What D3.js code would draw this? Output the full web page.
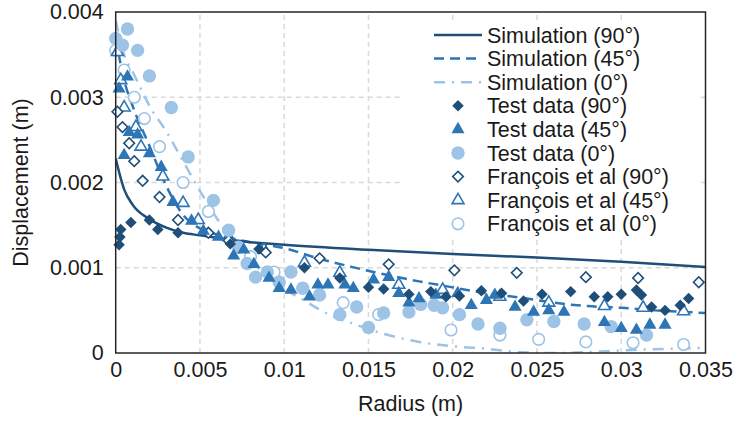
<!DOCTYPE html>
<html>
<head>
<meta charset="utf-8">
<script src="https://cdn.jsdelivr.net/npm/d3@7"></script>
<style>
  html, body { margin: 0; padding: 0; background: #fff; }
  svg { display: block; font-family: "Liberation Sans", Arial, sans-serif; }
</style>
</head>
<body>
<svg id="chart" width="736" height="423"></svg>
<script>
// Axis ticks
const xTicks = [0, 0.005, 0.01, 0.015, 0.02, 0.025, 0.03, 0.035];
const xTickLabels = ["0", "0.005", "0.01", "0.015", "0.02", "0.025", "0.03", "0.035"];
const yTicks = [0, 0.001, 0.002, 0.003, 0.004];
const yTickLabels = ["0", "0.001", "0.002", "0.003", "0.004"];

// Simulation curves: [radius (m), displacement (m)]
const sim90 = [[0, 0.00228], [0.0005, 0.00192], [0.001, 0.00174], [0.002, 0.00157], [0.003, 0.00147],
  [0.004, 0.00141], [0.005, 0.00138], [0.0075, 0.00131], [0.01, 0.00127], [0.015, 0.00121],
  [0.02, 0.00116], [0.025, 0.00112], [0.03, 0.00107], [0.035, 0.00101]];
const sim45 = [[0, 0.0037], [0.0005, 0.0032], [0.001, 0.0029], [0.002, 0.00243], [0.003, 0.00196],
  [0.004, 0.00162], [0.005, 0.00146], [0.006, 0.00139], [0.008, 0.0013], [0.01, 0.00123],
  [0.012, 0.00111], [0.014, 0.00101], [0.016, 0.00092], [0.018, 0.00084], [0.02, 0.00077],
  [0.022, 0.0007], [0.024, 0.00065], [0.026, 0.00059], [0.028, 0.00055], [0.03, 0.00053],
  [0.032, 0.0005], [0.035, 0.00047]];
const sim0 = [[0, 0.0039], [0.0005, 0.0035], [0.001, 0.0033], [0.0015, 0.0031], [0.002, 0.0029],
  [0.003, 0.0026], [0.004, 0.00225], [0.005, 0.0019], [0.006, 0.00158], [0.007, 0.0013],
  [0.008, 0.00108], [0.009, 0.0009], [0.01, 0.00075], [0.011, 0.00064], [0.012, 0.00052],
  [0.013, 0.00042], [0.014, 0.00035], [0.016, 0.00022], [0.018, 0.00013], [0.02, 0.00008],
  [0.022, 0.00005], [0.024, 0.00001], [0.026, 0], [0.028, 0.00001], [0.03, 0.00003], [0.035, 0.00006]];

// Measured data
const test90 = [[0.0003, 0.00145], [0.00025, 0.00136], [0.0002, 0.00127], [0.0009, 0.00153], [0.002, 0.00156],
  [0.0025, 0.00145], [0.0037, 0.00141], [0.0068, 0.00128], [0.0085, 0.00122], [0.0112, 0.001],
  [0.0133, 0.00088], [0.015, 0.00077], [0.0159, 0.00075], [0.0174, 0.00069], [0.0187, 0.00072],
  [0.0196, 0.00066], [0.0204, 0.00067], [0.0217, 0.00073], [0.0229, 0.0007], [0.0242, 0.00061],
  [0.0253, 0.00069], [0.027, 0.00072], [0.0284, 0.00066], [0.0292, 0.00066], [0.03, 0.00069],
  [0.0309, 0.00074], [0.0312, 0.00068], [0.0318, 0.00054], [0.0326, 0.0005], [0.0335, 0.00056],
  [0.034, 0.00064]];
const test45 = [[0.0002, 0.0031], [0.0007, 0.00324], [0.0008, 0.00259], [0.0013, 0.00256], [0.0005, 0.00232],
  [0.002, 0.00234], [0.0027, 0.00218], [0.0034, 0.00177], [0.0045, 0.00155], [0.0052, 0.00143],
  [0.0061, 0.00136], [0.007, 0.00114], [0.0076, 0.00121], [0.0082, 0.00104], [0.0091, 0.00088],
  [0.0097, 0.00076], [0.0104, 0.00074], [0.0115, 0.00066], [0.012, 0.0008], [0.0126, 0.0008],
  [0.0136, 0.0008], [0.0141, 0.00076], [0.0153, 0.00086], [0.0162, 0.00089], [0.0168, 0.0007],
  [0.0174, 0.00059], [0.018, 0.00064], [0.019, 0.00068], [0.0203, 0.0007], [0.0211, 0.00056],
  [0.022, 0.00062], [0.0225, 0.00068], [0.0237, 0.00054], [0.0248, 0.00048], [0.0257, 0.0005],
  [0.0266, 0.00048], [0.029, 0.00036], [0.03, 0.00029], [0.0309, 0.00027], [0.0317, 0.00033],
  [0.0326, 0.00033]];
const test0 = [[0.0, 0.00369], [0.0007, 0.0038], [0.0004, 0.00361], [0.0013, 0.00355], [0.002, 0.00325],
  [0.0033, 0.00288], [0.0043, 0.0023], [0.0058, 0.00179], [0.0067, 0.00144], [0.0073, 0.00124],
  [0.0078, 0.00105], [0.0083, 0.00089], [0.009, 0.00095], [0.0097, 0.00083], [0.0104, 0.00095],
  [0.0111, 0.00076], [0.0121, 0.00068], [0.0133, 0.00045], [0.0143, 0.00054], [0.015, 0.0003],
  [0.0159, 0.00047], [0.0174, 0.00048], [0.0181, 0.00057], [0.0189, 0.00056], [0.0194, 0.00053],
  [0.0204, 0.00045], [0.0215, 0.00034], [0.0228, 0.00029], [0.0244, 0.00039], [0.026, 0.00037],
  [0.0278, 0.00034], [0.0294, 0.00031], [0.0315, 0.00021]];

// Published reference data (François et al)
const francois90 = [[0.0001, 0.00283], [0.0004, 0.00265], [0.0008, 0.00246], [0.0011, 0.00225], [0.0016, 0.00202],
  [0.0026, 0.00183], [0.0037, 0.00156], [0.0055, 0.00141], [0.0067, 0.00132], [0.0089, 0.00118],
  [0.0121, 0.00111], [0.0162, 0.00104], [0.0201, 0.00097], [0.0238, 0.00094], [0.0279, 0.00089],
  [0.031, 0.00088], [0.0346, 0.00083]];
const francois45 = [[0.0001, 0.00353], [0.0003, 0.0032], [0.0005, 0.00288], [0.0012, 0.00265], [0.0015, 0.00242],
  [0.0028, 0.00207], [0.004, 0.00176], [0.0049, 0.00156], [0.0067, 0.00136], [0.0088, 0.00121],
  [0.0112, 0.00106], [0.0133, 0.00094], [0.0168, 0.0008], [0.0194, 0.00074], [0.0228, 0.00066],
  [0.0257, 0.00059], [0.029, 0.00055], [0.0313, 0.00053], [0.0337, 0.00049]];
const francois0 = [[0.0, 0.00355], [0.0005, 0.00332], [0.0011, 0.003], [0.0017, 0.00275], [0.0026, 0.00242],
  [0.004, 0.002], [0.0055, 0.00166], [0.008, 0.00113], [0.0094, 0.00095], [0.0135, 0.00059],
  [0.0156, 0.00045], [0.0199, 0.00027], [0.0228, 0.00021], [0.0251, 0.00016], [0.0279, 0.00013],
  [0.0307, 0.00012], [0.0337, 0.0001]];

const C90 = "#1f4e79", C45 = "#2e75b6", C0 = "#9dc3e6";
const FONT = 21.5;

const svg = d3.select("#chart");
const x = d3.scaleLinear().domain([0, 0.035]).range([115.7, 705.5]);
const y = d3.scaleLinear().domain([0, 0.004]).range([353, 12]);

// Gridlines
const grid = svg.append("g");
grid.selectAll("line.vg").data(xTicks.slice(1, -1)).join("line")
  .attr("x1", d => x(d)).attr("x2", d => x(d)).attr("y1", y(0)).attr("y2", y(0.004))
  .attr("stroke", "#d9d9d9").attr("stroke-width", 1.5).attr("stroke-dasharray", "5,4");
grid.selectAll("line.hg").data(yTicks.slice(1, -1)).join("line")
  .attr("y1", d => y(d)).attr("y2", d => y(d)).attr("x1", x(0)).attr("x2", x(0.035))
  .attr("stroke", "#d9d9d9").attr("stroke-width", 1.5).attr("stroke-dasharray", "5,4");

// Axes with tick labels only
const xAxis = svg.append("g").attr("transform", `translate(0,${y(0)})`)
  .call(d3.axisBottom(x).tickValues(xTicks).tickFormat((d, i) => xTickLabels[i]).tickSize(0).tickPadding(9));
const yAxis = svg.append("g").attr("transform", `translate(${x(0)},0)`)
  .call(d3.axisLeft(y).tickValues(yTicks).tickFormat((d, i) => yTickLabels[i]).tickSize(0).tickPadding(12));
[xAxis, yAxis].forEach(a => {
  a.select(".domain").remove();
  a.selectAll("text").attr("font-size", FONT).attr("fill", "#1a1a1a")
    .attr("font-family", "'Liberation Sans', Arial, sans-serif");
});

// Simulation lines
const line = d3.line().x(d => x(d[0])).y(d => y(d[1])).curve(d3.curveMonotoneX);
const plot = svg.append("g");
svg.append("clipPath").attr("id", "plotclip").append("rect")
  .attr("x", x(0)).attr("y", y(0.004)).attr("width", x(0.035) - x(0)).attr("height", y(0) - y(0.004));
const lines = plot.append("g").attr("clip-path", "url(#plotclip)");
const simSeries = [
  { data: sim0, color: C0, dash: "11,7,2,7" },
  { data: sim45, color: C45, dash: "10,6" },
  { data: sim90, color: C90, dash: null }
];
simSeries.forEach(s => {
  lines.append("path").datum(s.data).attr("d", line)
    .attr("fill", "none").attr("stroke", s.color).attr("stroke-width", 2.5)
    .attr("stroke-dasharray", s.dash);
});

// Marker definitions
const markers = {
  fdiamond: { type: d3.symbolSquare, size: 66, rot: 45, fill: true },
  ftriangle: { type: d3.symbolTriangle, size: 74, rot: 0, fill: true },
  fcircle: { type: d3.symbolCircle, size: 140, rot: 0, fill: true },
  odiamond: { type: d3.symbolSquare, size: 56, rot: 45, fill: false },
  otriangle: { type: d3.symbolTriangle, size: 62, rot: 0, fill: false },
  ocircle: { type: d3.symbolCircle, size: 105, rot: 0, fill: false }
};
function drawMarker(g, m, color, cx, cy) {
  const def = markers[m];
  g.append("path")
    .attr("d", d3.symbol().type(def.type).size(def.size)())
    .attr("transform", `translate(${cx},${cy}) rotate(${def.rot})`)
    .attr("fill", def.fill ? color : "#fff")
    .attr("stroke", def.fill ? "none" : color)
    .attr("stroke-width", 1.6);
}

const pointSeries = [
  { data: francois0, m: "ocircle", color: C0 },
  { data: francois45, m: "otriangle", color: C45 },
  { data: francois90, m: "odiamond", color: C90 },
  { data: test0, m: "fcircle", color: C0 },
  { data: test45, m: "ftriangle", color: C45 },
  { data: test90, m: "fdiamond", color: C90 }
];
const pts = plot.append("g");
pointSeries.forEach(s => {
  s.data.forEach(d => drawMarker(pts, s.m, s.color, x(d[0]), y(d[1])));
});

// Plot frame
svg.append("rect").attr("x", x(0)).attr("y", y(0.004))
  .attr("width", x(0.035) - x(0)).attr("height", y(0) - y(0.004))
  .attr("fill", "none").attr("stroke", "#262626").attr("stroke-width", 1.5);

// Legend
const legendItems = [
  { label: "Simulation (90°)", kind: "line", color: C90, dash: null },
  { label: "Simulation (45°)", kind: "line", color: C45, dash: "10,6" },
  { label: "Simulation (0°)", kind: "line", color: C0, dash: "11,7,2,7" },
  { label: "Test data (90°)", kind: "fdiamond", color: C90 },
  { label: "Test data (45°)", kind: "ftriangle", color: C45 },
  { label: "Test data (0°)", kind: "fcircle", color: C0 },
  { label: "François et al (90°)", kind: "odiamond", color: C90 },
  { label: "François et al (45°)", kind: "otriangle", color: C45 },
  { label: "François et al (0°)", kind: "ocircle", color: C0 }
];
const legend = svg.append("g");
legend.append("rect").attr("x", 403).attr("y", 22).attr("width", 294).attr("height", 215).attr("fill", "#fff");
legendItems.forEach((it, i) => {
  const cy = 35 + i * 23.6;
  if (it.kind === "line") {
    legend.append("line").attr("x1", 434).attr("x2", 482).attr("y1", cy).attr("y2", cy)
      .attr("stroke", it.color).attr("stroke-width", 2.5).attr("stroke-dasharray", it.dash);
  } else {
    drawMarker(legend, it.kind, it.color, 458, cy);
  }
  legend.append("text").attr("x", 487).attr("y", cy).attr("dy", "0.35em")
    .attr("font-size", FONT).attr("fill", "#1a1a1a").text(it.label);
});

// Axis titles
svg.append("text").attr("x", x(0.0175)).attr("y", 411).attr("text-anchor", "middle")
  .attr("font-size", FONT).attr("fill", "#1a1a1a").text("Radius (m)");
svg.append("text").attr("transform", `translate(28,${(y(0) + y(0.004)) / 2}) rotate(-90)`)
  .attr("text-anchor", "middle").attr("font-size", FONT).attr("fill", "#1a1a1a").text("Displacement (m)");
</script>
</body>
</html>
